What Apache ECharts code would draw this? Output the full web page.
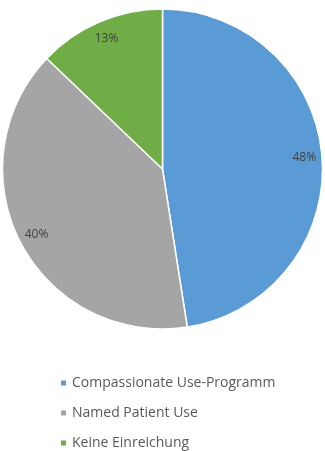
<!DOCTYPE html>
<html>
<head>
<meta charset="utf-8">
<style>
  html, body { margin: 0; padding: 0; background: #ffffff; }
  #chart { width: 325px; height: 451px; }
</style>
<script src="https://cdn.jsdelivr.net/npm/echarts@6/dist/echarts.min.js"></script>
</head>
<body>
<div id="chart"></div>
<script>
// Distribution of submission types
const categories = ['Compassionate Use-Programm', 'Named Patient Use', 'Keine Einreichung'];
const shares = [48, 40, 13];
const colors = ['#5B9BD5', '#A5A5A5', '#70AD47'];

const pieData = categories.map((name, i) => ({
  name: name,
  value: shares[i],
  itemStyle: { color: colors[i] }
}));

const chart = echarts.init(document.getElementById('chart'), null, { renderer: 'canvas' });

const center = [162.5, 169];
const outerR = 160;

chart.setOption({
  animation: false,
  backgroundColor: '#ffffff',
  legend: {
    orient: 'vertical',
    left: 59,
    top: 376,
    padding: 0,
    itemWidth: 7,
    itemHeight: 7,
    itemGap: 16,
    icon: 'rect',
    data: categories,
    textStyle: {
      fontFamily: 'Open Sans',
      fontSize: 14,
      color: '#595959'
    }
  },
  series: [
    {
      type: 'pie',
      center: center,
      radius: [0, outerR],
      startAngle: 90,
      clockwise: true,
      data: pieData,
      itemStyle: { borderColor: '#ffffff', borderWidth: 1.5 },
      label: { show: false },
      labelLine: { show: false },
      emphasis: { disabled: true }
    },
    {
      // label ring placed near the outer edge of each slice
      type: 'pie',
      center: center,
      radius: [outerR * 0.74, outerR],
      startAngle: 90,
      clockwise: true,
      silent: true,
      legendHoverLink: false,
      data: pieData.map(d => ({ name: d.name, value: d.value, itemStyle: { color: 'rgba(0,0,0,0)' } })),
      itemStyle: { borderWidth: 0 },
      label: {
        show: true,
        position: 'inside',
        formatter: p => p.value + '%',
        fontFamily: 'Open Sans',
        fontSize: 12,
        color: '#404040'
      },
      labelLine: { show: false },
      emphasis: { disabled: true },
      tooltip: { show: false }
    }
  ]
});
</script>
</body>
</html>
